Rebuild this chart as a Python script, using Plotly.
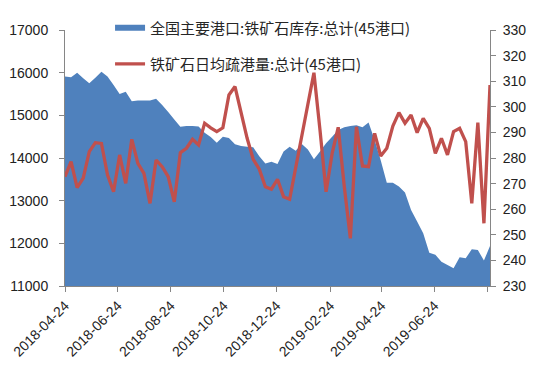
import plotly.graph_objects as go
import pandas as pd

# Left axis: port iron ore inventory (area)
stock = [15910, 15890, 16000, 15870, 15750, 15880, 16020, 15910, 15710, 15500,
         15550, 15330, 15345, 15350, 15345, 15390, 15240, 15080, 14900, 14735,
         14750, 14750, 14740, 14590, 14490, 14360, 14500, 14470, 14320, 14280,
         14265, 14250, 14040, 13870, 13910, 13860,
         14150, 14265, 14170, 14330, 14200, 13970, 14150, 14345, 14500, 14655,
         14720, 14750, 14765, 14720, 14830, 14420, 13950, 13420, 13420, 13330,
         13190, 12780, 12510, 12235, 11780, 11730, 11570, 11490, 11415, 11675,
         11650, 11860, 11845, 11595, 11940]

# Right axis: daily average port dispatch (line)
dispatch = [272.7, 278.6, 268.4, 272.1, 282.5, 286.0, 285.7, 273.4, 266.8, 281.2,
            270.1, 287.3, 277.9, 274.0, 262.3, 279.2, 276.6, 272.7, 262.9, 282.1,
            283.8, 287.3, 285.1, 293.6, 291.8, 290.3, 291.8, 304.6, 307.9, 297.5,
            287.7, 279.5, 275.6, 268.8, 267.8, 271.7,
            264.9, 263.9, 276.0, 288.3, 301.4, 313.3, 290.9, 266.8, 281.8, 292.0,
            268.8, 248.6, 292.2, 276.9, 276.6, 289.6, 280.8, 283.8, 292.5, 297.7,
            293.6, 296.8, 289.9, 295.5, 291.6, 281.8, 287.7, 281.2, 290.3, 291.6,
            286.4, 262.3, 293.8, 254.5, 308.5]

dates = pd.date_range("2018-04-24", periods=len(stock), freq="7D")

tick_dates = ["2018-04-24", "2018-06-24", "2018-08-24", "2018-10-24", "2018-12-24",
              "2019-02-24", "2019-04-24", "2019-06-24", "2019-08-24"]
tick_labels = ["2018-04-24", "2018-06-24", "2018-08-24", "2018-10-24", "2018-12-24",
               "2019-02-24", "2019-04-24", "2019-06-24", ""]

name_stock = "全国主要港口:铁矿石库存:总计(45港口)"
name_disp = "铁矿石日均疏港量:总计(45港口)"

fig = go.Figure()
fig.add_trace(go.Scatter(
    x=dates, y=stock, name=name_stock, mode="none", fill="tozeroy",
    fillcolor="#4F81BD", legend="legend"))
fig.add_trace(go.Scatter(
    x=dates, y=dispatch, name=name_disp, mode="lines", yaxis="y2",
    line=dict(color="#C0504D", width=3.3), legend="legend2"))

axis_common = dict(showline=True, linecolor="#868686", linewidth=1, ticks="outside",
                   ticklen=5, tickcolor="#868686", showgrid=False, zeroline=False,
                   automargin=False,
                   tickfont=dict(family="Liberation Sans, Arial", size=14, color="#222222"))

legend_font = dict(family="Noto Sans CJK SC", size=15, color="#262626")

# page body has an 8px margin, so the figure is sized to keep the plot area in place
fig.update_layout(
    width=542, height=365,
    margin=dict(l=57, r=60, t=22, b=87, autoexpand=False),
    paper_bgcolor="white", plot_bgcolor="white",
    xaxis=dict(type="date", range=[dates[0], dates[-1]], tickvals=tick_dates,
               ticktext=tick_labels, tickangle=-45, **axis_common),
    yaxis=dict(range=[11000, 17000], dtick=1000, tickformat="d",
               ticklabelstandoff=8, **axis_common),
    yaxis2=dict(range=[230, 330], dtick=10, tickformat="d", overlaying="y",
                side="right", ticklabelstandoff=4, **axis_common),
    legend=dict(x=0.106, y=1.008, xanchor="left", yanchor="middle",
                bgcolor="rgba(0,0,0,0)", font=legend_font),
    legend2=dict(x=0.106, y=0.867, xanchor="left", yanchor="middle",
                 bgcolor="rgba(0,0,0,0)", font=legend_font),
    showlegend=True,
)

fig.write_html("out.html")
